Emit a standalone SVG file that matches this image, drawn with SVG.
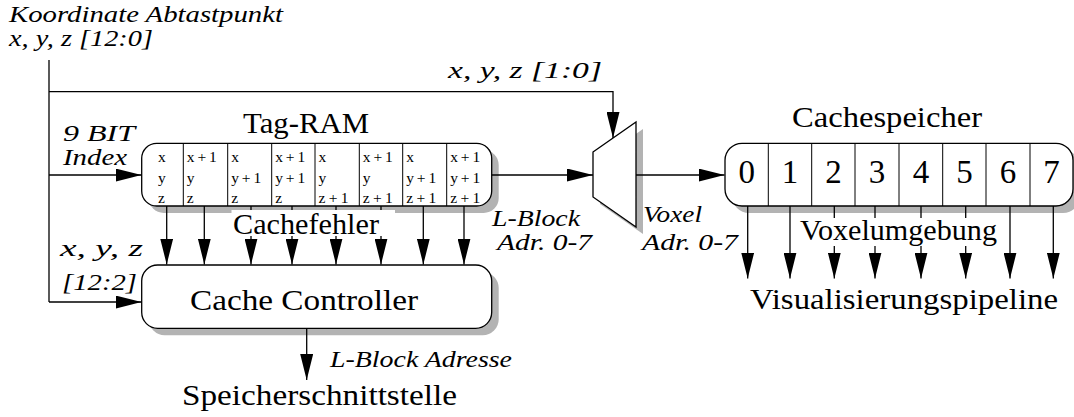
<svg xmlns="http://www.w3.org/2000/svg" width="1074" height="417" viewBox="0 0 1074 417">
<defs>
<marker id="ah" viewBox="0 0 26 13" markerWidth="26" markerHeight="13" markerUnits="userSpaceOnUse" refX="26" refY="6.5" orient="auto">
<path d="M0,0 L26,6.5 L0,13 z" fill="#000"/>
</marker>
<style>
.ln{stroke:#000;stroke-width:1.3;fill:none}
.ar{stroke:#000;stroke-width:1.3;fill:none;marker-end:url(#ah)}
.box{fill:#fff;stroke:#000;stroke-width:1.3}
.sh{fill:#b3b3b3;stroke:none}
.dv{stroke:#000;stroke-width:1}
.bg{fill:#fff;stroke:none}
.t{font-family:'Liberation Serif',serif;font-size:29px;fill:#000}
.i{font-family:'Liberation Serif',serif;font-size:24px;font-style:italic;fill:#000}
.c{font-family:'Liberation Serif',serif;font-size:15.5px;fill:#000}
.d{font-family:'Liberation Serif',serif;font-size:33px;text-anchor:middle;fill:#000}
</style>
</defs>

<g id="shadows">
<rect class="sh" x="148.7" y="150" width="350" height="63" rx="15"/>
<rect class="sh" x="148.7" y="272" width="350" height="63.3" rx="16"/>
<rect class="sh" x="732" y="150" width="348" height="63" rx="17"/>
<polygon class="sh" points="600,159 643,129 643,234 600,204"/>
</g>

<g id="tag-ram">
<rect class="box" x="141.7" y="143.3" width="350" height="62.7" rx="15"/>
<line class="dv" x1="183.3" y1="143.3" x2="183.3" y2="206"/>
<line class="dv" x1="227.7" y1="143.3" x2="227.7" y2="206"/>
<line class="dv" x1="271.7" y1="143.3" x2="271.7" y2="206"/>
<line class="dv" x1="315" y1="143.3" x2="315" y2="206"/>
<line class="dv" x1="359.3" y1="143.3" x2="359.3" y2="206"/>
<line class="dv" x1="402.7" y1="143.3" x2="402.7" y2="206"/>
<line class="dv" x1="446.7" y1="143.3" x2="446.7" y2="206"/>
<text class="c" x="158" y="162">x</text>
<text class="c" x="158" y="182.5">y</text>
<text class="c" x="158" y="203">z</text>
<text class="c" x="186.8" y="162" textLength="30" lengthAdjust="spacing">x+1</text>
<text class="c" x="186.8" y="182.5">y</text>
<text class="c" x="186.8" y="203">z</text>
<text class="c" x="231.2" y="162">x</text>
<text class="c" x="231.2" y="182.5" textLength="30" lengthAdjust="spacing">y+1</text>
<text class="c" x="231.2" y="203">z</text>
<text class="c" x="275.2" y="162" textLength="30" lengthAdjust="spacing">x+1</text>
<text class="c" x="275.2" y="182.5" textLength="30" lengthAdjust="spacing">y+1</text>
<text class="c" x="275.2" y="203">z</text>
<text class="c" x="318.5" y="162">x</text>
<text class="c" x="318.5" y="182.5">y</text>
<text class="c" x="318.5" y="203" textLength="30" lengthAdjust="spacing">z+1</text>
<text class="c" x="362.8" y="162" textLength="30" lengthAdjust="spacing">x+1</text>
<text class="c" x="362.8" y="182.5">y</text>
<text class="c" x="362.8" y="203" textLength="30" lengthAdjust="spacing">z+1</text>
<text class="c" x="406.2" y="162">x</text>
<text class="c" x="406.2" y="182.5" textLength="30" lengthAdjust="spacing">y+1</text>
<text class="c" x="406.2" y="203" textLength="30" lengthAdjust="spacing">z+1</text>
<text class="c" x="450.2" y="162" textLength="30" lengthAdjust="spacing">x+1</text>
<text class="c" x="450.2" y="182.5" textLength="30" lengthAdjust="spacing">y+1</text>
<text class="c" x="450.2" y="203" textLength="30" lengthAdjust="spacing">z+1</text>
<text class="t" x="243" y="133" textLength="126" lengthAdjust="spacingAndGlyphs">Tag-RAM</text>
</g>

<g id="cache-controller">
<rect class="box" x="141.7" y="265" width="350" height="63.3" rx="16"/>
<text class="t" x="190" y="310" textLength="228" lengthAdjust="spacingAndGlyphs">Cache Controller</text>
</g>

<g id="mux">
<polygon class="box" points="593,152 636,122 636,227 593,197"/>
</g>

<g id="cachespeicher">
<rect class="box" x="725" y="143.3" width="348" height="62.7" rx="17"/>
<line class="dv" x1="768.3" y1="143.3" x2="768.3" y2="206"/>
<line class="dv" x1="811.7" y1="143.3" x2="811.7" y2="206"/>
<line class="dv" x1="855" y1="143.3" x2="855" y2="206"/>
<line class="dv" x1="899" y1="143.3" x2="899" y2="206"/>
<line class="dv" x1="942.7" y1="143.3" x2="942.7" y2="206"/>
<line class="dv" x1="986" y1="143.3" x2="986" y2="206"/>
<line class="dv" x1="1030" y1="143.3" x2="1030" y2="206"/>
<text class="d" x="746.7" y="182.5">0</text>
<text class="d" x="790" y="182.5">1</text>
<text class="d" x="833.4" y="182.5">2</text>
<text class="d" x="877" y="182.5">3</text>
<text class="d" x="920.9" y="182.5">4</text>
<text class="d" x="964.4" y="182.5">5</text>
<text class="d" x="1008" y="182.5">6</text>
<text class="d" x="1051.5" y="182.5">7</text>
<text class="t" x="792" y="127" textLength="190" lengthAdjust="spacingAndGlyphs">Cachespeicher</text>
</g>

<g id="connectors">
<polyline class="ln" points="49,60 49,302"/>
<polyline class="ar" points="49,91.7 613,91.7 613,138"/>
<line class="ar" x1="49" y1="175" x2="141.5" y2="175"/>
<line class="ar" x1="49" y1="302" x2="141.5" y2="302"/>
<line class="ar" x1="491.7" y1="175" x2="593" y2="175"/>
<line class="ar" x1="636" y1="175" x2="724.5" y2="175"/>
<line class="ar" x1="166.7" y1="206" x2="166.7" y2="264.5"/>
<line class="ar" x1="204.3" y1="206" x2="204.3" y2="264.5"/>
<line class="ar" x1="251" y1="206" x2="251" y2="264.5"/>
<line class="ar" x1="292" y1="206" x2="292" y2="264.5"/>
<line class="ar" x1="336" y1="206" x2="336" y2="264.5"/>
<line class="ar" x1="381" y1="206" x2="381" y2="264.5"/>
<line class="ar" x1="423.3" y1="206" x2="423.3" y2="264.5"/>
<line class="ar" x1="464" y1="206" x2="464" y2="264.5"/>
<line class="ar" x1="747.7" y1="206" x2="747.7" y2="278.5"/>
<line class="ar" x1="790" y1="206" x2="790" y2="278.5"/>
<line class="ar" x1="834.3" y1="206" x2="834.3" y2="278.5"/>
<line class="ar" x1="875" y1="206" x2="875" y2="278.5"/>
<line class="ar" x1="921" y1="206" x2="921" y2="278.5"/>
<line class="ar" x1="965.7" y1="206" x2="965.7" y2="278.5"/>
<line class="ar" x1="1010" y1="206" x2="1010" y2="278.5"/>
<line class="ar" x1="1053.3" y1="206" x2="1053.3" y2="278.5"/>
<line class="ar" x1="306.7" y1="328.3" x2="306.7" y2="380"/>
</g>

<g id="labels">
<rect class="bg" x="231.5" y="210" width="163.5" height="26"/>
<text class="t" x="233" y="233.5" textLength="146" lengthAdjust="spacingAndGlyphs">Cachefehler</text>
<rect class="bg" x="798" y="218" width="202" height="28"/>
<text class="t" x="800" y="240" textLength="197" lengthAdjust="spacingAndGlyphs">Voxelumgebung</text>
<text class="t" x="750" y="309" textLength="308" lengthAdjust="spacingAndGlyphs">Visualisierungspipeline</text>
<text class="t" x="182" y="405" textLength="275" lengthAdjust="spacingAndGlyphs">Speicherschnittstelle</text>
<text class="i" x="9" y="22" textLength="274" lengthAdjust="spacingAndGlyphs">Koordinate Abtastpunkt</text>
<text class="i" x="9" y="46" textLength="144" lengthAdjust="spacingAndGlyphs">x, y, z [12:0]</text>
<text class="i" x="448" y="78" textLength="154" lengthAdjust="spacingAndGlyphs">x, y, z [1:0]</text>
<text class="i" x="63" y="140.5" textLength="72" lengthAdjust="spacingAndGlyphs">9 BIT</text>
<text class="i" x="63" y="164.5" textLength="64" lengthAdjust="spacingAndGlyphs">Index</text>
<text class="i" x="60" y="256" textLength="83" lengthAdjust="spacingAndGlyphs">x, y, z</text>
<text class="i" x="62" y="290" textLength="75" lengthAdjust="spacingAndGlyphs">[12:2]</text>
<text class="i" x="330" y="367" textLength="182" lengthAdjust="spacingAndGlyphs">L-Block Adresse</text>
<text class="i" x="492" y="225.5" textLength="88" lengthAdjust="spacingAndGlyphs">L-Block</text>
<text class="i" x="497" y="250" textLength="95" lengthAdjust="spacingAndGlyphs">Adr. 0-7</text>
<text class="i" x="643" y="222" textLength="59" lengthAdjust="spacingAndGlyphs">Voxel</text>
<text class="i" x="642" y="250" textLength="96" lengthAdjust="spacingAndGlyphs">Adr. 0-7</text>
</g>
</svg>
